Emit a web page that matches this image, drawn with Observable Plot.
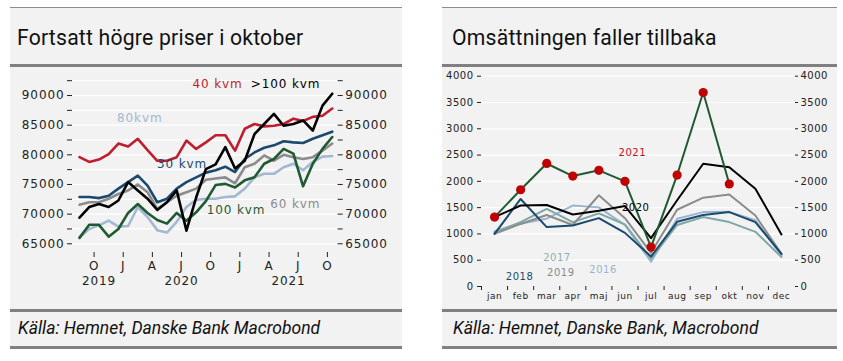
<!DOCTYPE html>
<html><head><meta charset="utf-8">
<script src="https://cdn.jsdelivr.net/npm/d3@7"></script>
<script src="https://cdn.jsdelivr.net/npm/@observablehq/plot@0.6"></script>
<style>
body{margin:0;background:#fff;width:843px;height:361px;overflow:hidden;position:relative;font-family:"DejaVu Sans",sans-serif}
.panel{position:absolute;top:0;height:350px}
.topline{position:absolute;left:0;right:0;top:7px;height:1px;background:#8c8c8c}
.head{position:absolute;left:0;right:0;top:8px;height:56px;background:#f2f2f2}
.head span{position:absolute;top:17px;font-family:Roboto,sans-serif;font-weight:400;font-size:21.2px;color:#111;white-space:nowrap;letter-spacing:0.2px}
.bar{position:absolute;left:0;right:0;height:3px;background:#808080}
.chart{position:absolute;left:0;top:67px;right:0;height:242px;background:#f2f2f2}
.cap{position:absolute;left:0;right:0;top:312px;height:34px;background:#f2f2f2}
.cap span{position:absolute;top:6px;font-family:Roboto,sans-serif;font-style:italic;font-size:17.5px;color:#111;white-space:nowrap}
#left svg text{letter-spacing:0.9px}
#right svg text{letter-spacing:0.5px}
</style>
</head><body>
<div class="panel" id="lp" style="left:10px;width:392px">
  <div class="topline"></div>
  <div class="head"><span style="left:7px">Fortsatt högre priser i oktober</span></div>
  <div class="bar" style="top:64px"></div>
  <div class="chart" id="left"></div>
  <div class="bar" style="top:309px"></div>
  <div class="cap"><span style="left:8px">Källa: Hemnet, Danske Bank Macrobond</span></div>
  <div class="bar" style="top:346px"></div>
</div>
<div class="panel" id="rp" style="left:442px;width:395px">
  <div class="topline"></div>
  <div class="head"><span style="left:10px">Omsättningen faller tillbaka</span></div>
  <div class="bar" style="top:64px"></div>
  <div class="chart" id="right"></div>
  <div class="bar" style="top:309px"></div>
  <div class="cap"><span style="left:11px">Källa: Hemnet, Danske Bank, Macrobond</span></div>
  <div class="bar" style="top:346px"></div>
</div>
<script>
// ---------- Left chart data (price per m², Aug 2019 – Oct 2021) ----------
const leftPeriods = ["2019-08","2019-09","2019-10","2019-11","2019-12",
  "2020-01","2020-02","2020-03","2020-04","2020-05","2020-06","2020-07","2020-08","2020-09","2020-10","2020-11","2020-12",
  "2021-01","2021-02","2021-03","2021-04","2021-05","2021-06","2021-07","2021-08","2021-09","2021-10"];
const kvm80  = [66100,67500,68100,68900,67900,68000,71200,69500,67300,66900,68700,71200,72400,72600,72600,72900,73000,74300,76200,76800,76800,77900,78500,77400,78800,79700,79800];
const kvm60  = [71600,72000,72000,72600,73400,74000,75000,73700,70900,72000,73100,73700,74300,75800,76000,76200,75200,77900,78500,79900,79000,80000,79600,79300,79600,80700,81900];
const kvm30  = [72900,72900,72700,73100,74300,75400,76500,74800,72000,72600,74300,75400,76200,77000,77400,78000,77100,79300,80400,81200,81600,82300,82100,82000,82700,83300,83900];
const kvm40  = [79600,78800,79200,80100,81900,81400,82700,80800,79000,79000,79600,82400,81000,82100,83300,83300,80700,84400,85200,84800,84900,85200,86100,85700,86400,86600,87800];
const kvm100 = [66000,68200,68200,66200,67500,70200,71700,70200,69000,68400,70200,68900,70300,72200,74900,75100,74500,75700,76200,78500,79300,81000,80200,74700,78500,81000,83000];
const kvmOver100 = [69400,71200,71700,71200,72300,75400,74000,72600,70700,72000,74000,67200,72800,77600,78400,81300,77700,79000,83500,85200,86900,84900,85200,85800,84100,88300,90300];
const leftSeriesNames  = ["80kvm","60 kvm","30 kvm","40 kvm","100 kvm",">100 kvm"];
const leftSeriesValues = [kvm80, kvm60, kvm30, kvm40, kvm100, kvmOver100];
const leftSeriesColors = ["#a3b9d3","#8c8c8c","#1b4a6e","#be1e2d","#1f5a32","#000000"];
const leftYTicks = [65000,67500,70000,72500,75000,77500,80000,82500,85000,87500,90000,92500];
const leftTickMonths = ["2019-10","2020-01","2020-04","2020-07","2020-10","2021-01","2021-04","2021-07","2021-10"];
const leftTickLabels = ["O","J","A","J","O","J","A","J","O"];
const leftYears = ["2019","2020","2021"];
// label anchors: [month index, value]
const leftLabelPos = [[6.2,86240],[22.2,71625],[10.55,78490],[14.2,91850],[16.1,70610],[21.2,91850]];

// ---------- Right chart data (sales per month) ----------
const months = ["jan","feb","mar","apr","maj","jun","jul","aug","sep","okt","nov","dec"];
const y2016 = [1050,1200,1290,1540,1505,1170,470,1290,1415,1420,1260,590];
const y2017 = [1030,1225,1475,1225,1390,1180,530,1170,1320,1225,1040,560];
const y2019 = [1000,1190,1360,1170,1735,1300,640,1460,1690,1750,1350,620];
const y2018 = [1000,1665,1130,1160,1300,1020,570,1230,1360,1415,1225,620];
const y2020 = [1320,1540,1550,1370,1440,1530,920,1640,2335,2270,1860,990];
const y2021 = [1320,1840,2340,2100,2210,2000,750,2120,3690,1950];
const rightSeriesNames  = ["2016","2017","2019","2018","2020","2021"];
const rightSeriesValues = [y2016, y2017, y2019, y2018, y2020, y2021];
const rightSeriesColors = ["#9ab5cf","#7ea8a6","#8c8c8c","#1b4a6e","#000000","#1f5a32"];
const rightLabelColors  = ["#9ab5cf","#8ab3ae","#8c8c8c","#1b4a6e","#000000","#c0141c"];
const rightLabelPos = [[4.16,318],[2.39,546],[2.54,266],[0.96,177],[5.41,1497],[5.28,2535]];
const rightYTicks = [0,500,1000,1500,2000,2500,3000,3500,4000];

// ---------- Left chart ----------
{
  const data = leftSeriesNames.flatMap((s, k) => leftSeriesValues[k].map((v, i) => ({s, i, v})));
  const tickPos = leftTickMonths.map(m => leftPeriods.indexOf(m) - 0.5);
  const tickLab = new Map(tickPos.map((p, k) => [p, leftTickLabels[k]]));
  const yearPos = y => d3.mean(leftPeriods.map((p, i) => [p, i]).filter(([p]) => p.startsWith(y)), d => d[1]);
  const labels = leftSeriesNames.map((s, k) => ({s, i: leftLabelPos[k][0], v: leftLabelPos[k][1], c: leftSeriesColors[k]}));
  const fmt = d3.format("d");
  const chart = Plot.plot({
    width: 392, height: 242,
    marginLeft: 62, marginRight: 65.3, marginTop: 13.2, marginBottom: 57,
    style: {background: "transparent", fontFamily: "DejaVu Sans", fontSize: "12px", color: "#222"},
    x: {domain: [-0.72, 26.51], axis: null},
    y: {domain: [63530, 92500], axis: null},
    marks: [
      Plot.gridY(leftYTicks, {stroke: "#ffffff", strokeOpacity: 1, strokeWidth: 1.2}),
      Plot.axisY(leftYTicks, {anchor: "left", label: null, tickSize: 5, tickPadding: 3, fontSize: 12, tickFormat: d => d % 5000 === 0 ? fmt(d) : ""}),
      Plot.axisY(leftYTicks, {anchor: "right", label: null, tickSize: 5, tickPadding: 3, fontSize: 12, tickFormat: d => d % 5000 === 0 ? fmt(d) : ""}),
      Plot.axisX(tickPos, {anchor: "bottom", label: null, tickSize: 5, tickPadding: 4, fontSize: 12, tickFormat: d => tickLab.get(d)}),
      Plot.text(leftYears, {x: d => yearPos(d), text: d => d, frameAnchor: "bottom", dy: 32, fontSize: 12, fill: "#222"}),
      ...leftSeriesNames.map((s, k) => Plot.line(data.filter(d => d.s === s), {x: "i", y: "v", stroke: leftSeriesColors[k], strokeWidth: 2.6})),
      Plot.text(labels, {x: "i", y: "v", text: "s", fill: "c", fontSize: 12})
    ]
  });
  document.getElementById("left").append(chart);
}

// ---------- Right chart ----------
{
  const data = rightSeriesNames.flatMap((s, k) => rightSeriesValues[k].map((v, i) => ({s, i, v})));
  const labels = rightSeriesNames.map((s, k) => ({s, i: rightLabelPos[k][0], v: rightLabelPos[k][1], c: rightLabelColors[k]}));
  const mIdx = months.map((m, i) => i);
  const bounds = months.slice(0, 11).map((m, i) => i - 0.5).concat([10.5]);
  const fmt = d3.format("d");
  const chart = Plot.plot({
    width: 395, height: 242,
    marginLeft: 39, marginRight: 43, marginTop: 8.7, marginBottom: 23,
    style: {background: "transparent", fontFamily: "DejaVu Sans", fontSize: "10px", color: "#222"},
    x: {domain: [-0.5, 11.5], axis: null},
    y: {domain: [0, 4000], axis: null},
    marks: [
      Plot.gridY(rightYTicks.slice(1), {stroke: "#ffffff", strokeOpacity: 1, strokeWidth: 1.2}),
      Plot.axisY(rightYTicks, {anchor: "left", label: null, tickSize: 4, tickPadding: 4, fontSize: 10, tickFormat: fmt}),
      Plot.axisY(rightYTicks, {anchor: "right", label: null, tickSize: 3, tickPadding: 3, fontSize: 10, tickFormat: fmt}),
      Plot.axisX(bounds, {anchor: "bottom", label: null, tickSize: 4, tickFormat: () => ""}),
      Plot.axisX(mIdx, {anchor: "bottom", label: null, tickSize: 0, tickPadding: 6, fontSize: 9, tickFormat: i => months[i]}),
      ...rightSeriesNames.map((s, k) => Plot.line(data.filter(d => d.s === s), {x: "i", y: "v", stroke: rightSeriesColors[k], strokeWidth: 2})),
      Plot.dot(data.filter(d => d.s === "2021"), {x: "i", y: "v", r: 4.6, fill: "#c00000"}),
      Plot.text(labels, {x: "i", y: "v", text: "s", fill: "c", fontSize: 10})
    ]
  });
  document.getElementById("right").append(chart);
}
</script>
</body></html>
